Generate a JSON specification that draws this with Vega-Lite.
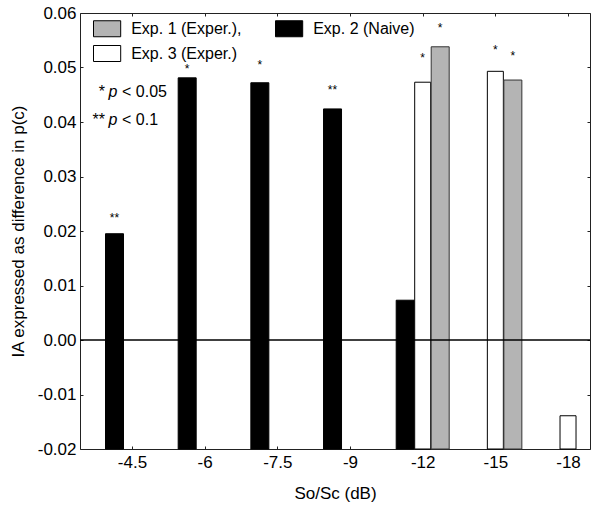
{
  "$schema": "https://vega.github.io/schema/vega-lite/v6.json",
  "width": 510,
  "height": 436,
  "autosize": {"type": "none"},
  "padding": {"left": 80, "top": 13, "right": 12, "bottom": 62},
  "background": "white",
  "config": {
    "view": {"stroke": "#222", "strokeWidth": 1},
    "font": "Liberation Sans",
    "axis": {"domain": false, "grid": false, "labelFont": "Liberation Sans", "titleFont": "Liberation Sans", "labelColor": "black", "titleColor": "black", "tickColor": "#222", "titleFontWeight": "normal"},
    "legend": {"labelFont": "Liberation Sans"}
  },
  "datasets": {
    "bars": [
      {"cat": "-4.5", "exp": "Exp. 2 (Naive)", "value": 0.0195, "sig": "**", "star_y": 0.0229},
      {"cat": "-6", "exp": "Exp. 2 (Naive)", "value": 0.0481, "sig": "*", "star_y": 0.0503},
      {"cat": "-7.5", "exp": "Exp. 2 (Naive)", "value": 0.0472, "sig": "*", "star_y": 0.051},
      {"cat": "-9", "exp": "Exp. 2 (Naive)", "value": 0.0424, "sig": "**", "star_y": 0.0464},
      {"cat": "-12", "exp": "Exp. 2 (Naive)", "value": 0.0073, "sig": "", "star_y": null},
      {"cat": "-12", "exp": "Exp. 3 (Exper.)", "value": 0.0473, "sig": "*", "star_y": 0.0523},
      {"cat": "-12", "exp": "Exp. 1 (Exper.)", "value": 0.0538, "sig": "*", "star_y": 0.0578},
      {"cat": "-15", "exp": "Exp. 3 (Exper.)", "value": 0.0493, "sig": "*", "star_y": 0.0538},
      {"cat": "-15", "exp": "Exp. 1 (Exper.)", "value": 0.0477, "sig": "*", "star_y": 0.0527},
      {"cat": "-18", "exp": "Exp. 3 (Exper.)", "value": -0.0139, "sig": "", "star_y": null}
    ],
    "notes": [
      {"cat": "-4.5", "ny": 0.0455, "pre": "*", "post": "< 0.05"},
      {"cat": "-4.5", "ny": 0.0404, "pre": "**", "post": "< 0.1"}
    ],
    "zero": [{"level": 0}]
  },
  "resolve": {"axis": {"x": "independent", "y": "independent"}},
  "layer": [
    {
      "data": {"name": "bars"},
      "transform": [{"filter": "datum.exp == 'Exp. 2 (Naive)'"}],
      "mark": {"type": "bar", "stroke": "black", "strokeWidth": 1, "width": 18, "xOffset": -17.5},
      "encoding": {
        "x": {
          "field": "cat", "type": "nominal",
          "scale": {"type": "point", "domain": ["-4.5", "-6", "-7.5", "-9", "-12", "-15", "-18"], "padding": 0.509, "align": 0.703},
          "axis": {"orient": "bottom", "labelAngle": 0, "labelFontSize": 17, "labelPadding": 8, "tickSize": -3, "title": "So/Sc (dB)", "titleFontSize": 17, "titleY": 36, "titleBaseline": "top"}
        },
        "y": {
          "field": "value", "type": "quantitative",
          "scale": {"domain": [-0.02, 0.06], "nice": false, "zero": false},
          "axis": {"orient": "left", "values": [-0.02, -0.01, 0, 0.01, 0.02, 0.03, 0.04, 0.05, 0.06], "format": ".2f", "labelExpr": "replace(datum.label, '\u2212', '-')", "labelFontSize": 17, "labelPadding": 7, "tickSize": -3, "title": "IA expressed as difference in p(c)", "titleFontSize": 17, "titleX": -62, "titleY": 218, "titleBaseline": "middle", "titleAlign": "center", "titleAngle": -90}
        },
        "y2": {"datum": -0.02},
        "fill": {
          "field": "exp", "type": "nominal",
          "scale": {"domain": ["Exp. 1 (Exper.)", "Exp. 2 (Naive)", "Exp. 3 (Exper.)"], "range": ["#b4b4b4", "#000000", "#ffffff"]},
          "legend": {
            "orient": "none", "legendX": 18.6, "legendY": 7, "columns": 2, "title": null,
            "direction": "horizontal",
            "symbolType": "M-1.7,-1H1.7V1H-1.7Z", "symbolSize": 256,
            "symbolStrokeColor": "black", "symbolStrokeWidth": 1, "symbolOpacity": 1,
            "labelFontSize": 16, "labelColor": "black", "labelOffset": 15.6,
            "rowPadding": 4, "columnPadding": 31, "padding": 0,
            "labelExpr": "datum.label == 'Exp. 1 (Exper.)' ? datum.label + ',' : datum.label"
          }
        }
      }
    },
    {
      "data": {"name": "bars"},
      "transform": [{"filter": "datum.exp == 'Exp. 3 (Exper.)'"}],
      "mark": {"type": "bar", "stroke": "black", "strokeWidth": 1, "width": 16, "xOffset": 0},
      "encoding": {
        "x": {"field": "cat", "type": "nominal", "axis": null},
        "y": {"field": "value", "type": "quantitative", "axis": null},
        "y2": {"datum": -0.02},
        "fill": {"field": "exp", "type": "nominal"}
      }
    },
    {
      "data": {"name": "bars"},
      "transform": [{"filter": "datum.exp == 'Exp. 1 (Exper.)'"}],
      "mark": {"type": "bar", "stroke": "#333", "strokeWidth": 1, "width": 18, "xOffset": 17.5},
      "encoding": {
        "x": {"field": "cat", "type": "nominal", "axis": null},
        "y": {"field": "value", "type": "quantitative", "axis": null},
        "y2": {"datum": -0.02},
        "fill": {"field": "exp", "type": "nominal"}
      }
    },
    {
      "data": {"name": "bars"},
      "transform": [{"filter": "datum.sig != '' && datum.exp == 'Exp. 2 (Naive)'"}],
      "mark": {"type": "text", "fontSize": 12, "baseline": "alphabetic", "dy": 7, "dx": -17.5, "color": "black"},
      "encoding": {
        "x": {"field": "cat", "type": "nominal", "axis": null},
        "y": {"field": "star_y", "type": "quantitative", "axis": null},
        "text": {"field": "sig"}
      }
    },
    {
      "data": {"name": "bars"},
      "transform": [{"filter": "datum.sig != '' && datum.exp == 'Exp. 3 (Exper.)'"}],
      "mark": {"type": "text", "fontSize": 12, "baseline": "alphabetic", "dy": 7, "dx": 0, "color": "black"},
      "encoding": {
        "x": {"field": "cat", "type": "nominal", "axis": null},
        "y": {"field": "star_y", "type": "quantitative", "axis": null},
        "text": {"field": "sig"}
      }
    },
    {
      "data": {"name": "bars"},
      "transform": [{"filter": "datum.sig != '' && datum.exp == 'Exp. 1 (Exper.)'"}],
      "mark": {"type": "text", "fontSize": 12, "baseline": "alphabetic", "dy": 7, "dx": 17.5, "color": "black"},
      "encoding": {
        "x": {"field": "cat", "type": "nominal", "axis": null},
        "y": {"field": "star_y", "type": "quantitative", "axis": null},
        "text": {"field": "sig"}
      }
    },
    {
      "data": {"name": "zero"},
      "mark": {"type": "rule", "color": "black", "strokeWidth": 1.5},
      "encoding": {"y": {"field": "level", "type": "quantitative", "axis": null}}
    },
    {
      "data": {"name": "notes"},
      "mark": {"type": "text", "fontSize": 16, "align": "right", "baseline": "middle", "dx": -27, "color": "black"},
      "encoding": {
        "x": {"field": "cat", "type": "nominal", "axis": null},
        "y": {"field": "ny", "type": "quantitative", "axis": null},
        "text": {"field": "pre"}
      }
    },
    {
      "data": {"name": "notes"},
      "mark": {"type": "text", "fontSize": 16, "fontStyle": "italic", "align": "center", "baseline": "middle", "dx": -19, "color": "black"},
      "encoding": {
        "x": {"field": "cat", "type": "nominal", "axis": {"orient": "top", "labels": false, "title": null, "tickSize": -3}},
        "y": {"field": "ny", "type": "quantitative", "axis": {"orient": "right", "labels": false, "title": null, "tickSize": -3, "values": [-0.02, -0.01, 0, 0.01, 0.02, 0.03, 0.04, 0.05, 0.06]}},
        "text": {"value": "p"}
      }
    },
    {
      "data": {"name": "notes"},
      "mark": {"type": "text", "fontSize": 16, "align": "left", "baseline": "middle", "dx": -10, "color": "black"},
      "encoding": {
        "x": {"field": "cat", "type": "nominal", "axis": null},
        "y": {"field": "ny", "type": "quantitative", "axis": null},
        "text": {"field": "post"}
      }
    }
  ]
}
